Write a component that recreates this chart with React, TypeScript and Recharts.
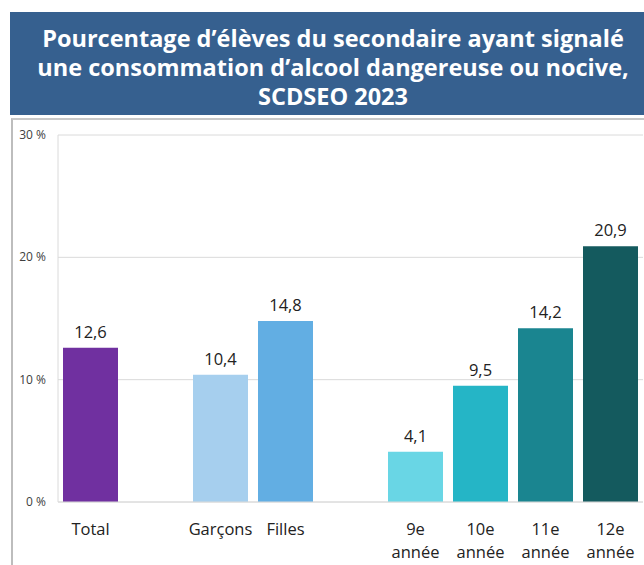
import React from 'react';
import { BarChart, Bar, XAxis, YAxis, CartesianGrid, Cell, LabelList } from 'recharts';

// blank entries keep the gaps between the groups
const categories = ['Total', '', 'Garçons', 'Filles', ' ', '9e année', '10e année', '11e année', '12e année'];
const values: (number | null)[] = [12.6, null, 10.4, 14.8, null, 4.1, 9.5, 14.2, 20.9];
const barColors = ['#7030a0', '#ffffff', '#a6cfee', '#62aee3', '#ffffff', '#69d6e5', '#25b5c6', '#1a8590', '#145a5e'];
const yTicks = [0, 10, 20, 30];

const titleLines = [
  'Pourcentage d’élèves du secondaire ayant signalé',
  'une consommation d’alcool dangereuse ou nocive,',
  'SCDSEO 2023',
];

const data = categories.map((name, i) => ({ name, value: values[i] }));

const font = '"Open Sans", "DejaVu Sans", sans-serif';
const textColor = '#222222';

const formatValue = (v: any) => {
  if (v === null || v === undefined || v === '') return '';
  return String(v).replace('.', ',');
};

const CategoryTick = (props: any) => {
  const { x, y, payload } = props;
  const label = String(payload.value).trim();
  if (!label) return null;
  const parts = label.split(' ');
  return (
    <text x={x} y={y} textAnchor="middle" fill={textColor} fontSize={16.5} fontFamily={font}>
      {parts.map((p, i) => (
        <tspan key={i} x={x} dy={i === 0 ? 33 : 23}>{p}</tspan>
      ))}
    </text>
  );
};

const ValueTick = (props: any) => {
  const { y, payload } = props;
  return (
    <text x={46} y={y} dy={4} textAnchor="end" fill="#404040" fontSize={12} fontFamily={font}>
      {`${payload.value} %`}
    </text>
  );
};

export default function App() {
  return (
    <div style={{ position: 'absolute', left: 0, top: 0, width: 644, height: 565, overflow: 'hidden', background: '#fff' }}>
      <div
        style={{
          position: 'absolute', left: 10, top: 12, width: 634, height: 103,
          background: '#36608f', color: '#fff', fontFamily: font, fontWeight: 700,
          fontSize: 23.5, lineHeight: '29px', textAlign: 'center', paddingTop: 12, paddingLeft: 12,
          boxSizing: 'border-box',
        }}
      >
        {titleLines.map((l, i) => <div key={i} style={{ whiteSpace: 'nowrap' }}>{l}</div>)}
      </div>
      <div
        style={{
          position: 'absolute', left: 11, top: 118, width: 660, height: 480,
          borderLeft: '2px solid #bdbdbd', borderTop: '2px solid #c8c8c8', boxSizing: 'border-box',
        }}
      />
      <div style={{ position: 'absolute', left: 0, top: 0 }}>
        <BarChart
          width={644}
          height={565}
          data={data}
          margin={{ top: 135, right: 1, left: 12, bottom: 0 }}
          barSize={55}
        >
          <CartesianGrid vertical={false} stroke="#dadada" />
          <XAxis
            dataKey="name"
            height={63}
            axisLine={{ stroke: '#dadada' }}
            tickLine={false}
            tickSize={0}
            tickMargin={0}
            interval={0}
            tick={<CategoryTick />}
          />
          <YAxis
            width={46}
            domain={[0, 30]}
            ticks={yTicks}
            axisLine={{ stroke: '#dadada' }}
            tickLine={false}
            tick={<ValueTick />}
          />
          <Bar dataKey="value" isAnimationActive={false}>
            {data.map((d, i) => <Cell key={i} fill={barColors[i]} />)}
            <LabelList
              dataKey="value"
              position="top"
              offset={10}
              formatter={formatValue}
              style={{ fontSize: 16.5, fill: textColor, fontFamily: font }}
            />
          </Bar>
        </BarChart>
      </div>
    </div>
  );
}
